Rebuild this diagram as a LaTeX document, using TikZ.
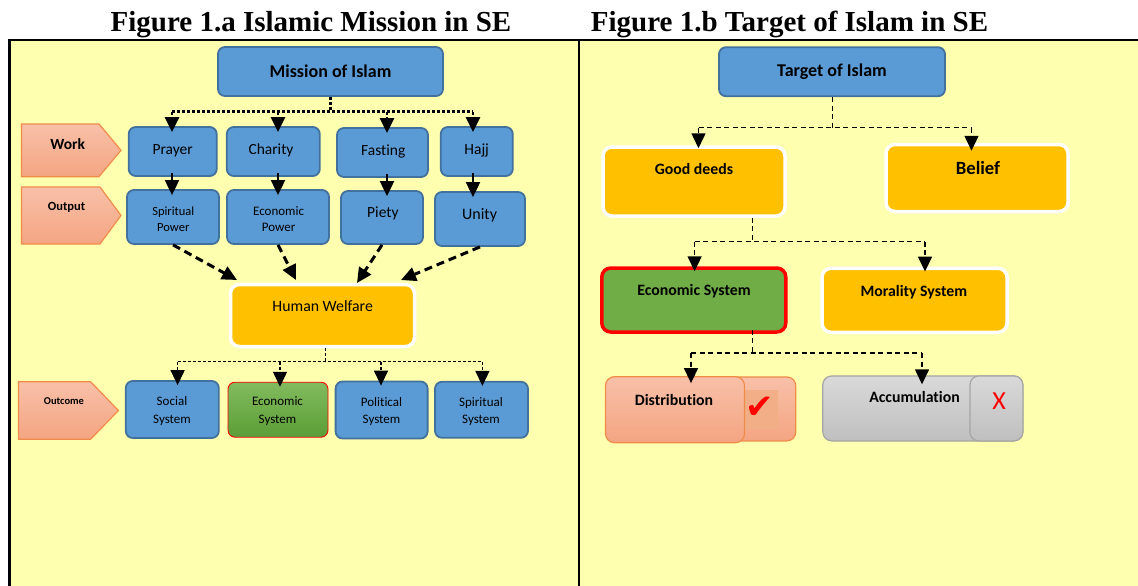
\documentclass[tikz,border=0pt]{standalone}
\usepackage{fontspec}
\setmainfont{Carlito}[Ligatures=NoCommon]
\newfontfamily\titlefont{Liberation Serif}
\newfontfamily\symfont{DejaVu Sans}
\usetikzlibrary{arrows.meta,calc}
\newcommand\fsz[2]{\fontsize{#1}{#2}\selectfont}
\definecolor{bg}{RGB}{255,255,176}
\definecolor{bfill}{RGB}{91,155,213}
\definecolor{bline}{RGB}{65,113,156}
\definecolor{yfill}{RGB}{255,192,0}
\definecolor{gfill}{RGB}{112,173,71}
\definecolor{gtop}{RGB}{130,187,94}
\definecolor{gbot}{RGB}{91,158,54}
\definecolor{stop}{RGB}{248,192,168}
\definecolor{sbot}{RGB}{244,165,130}
\definecolor{sline}{RGB}{240,140,74}
\definecolor{chk}{RGB}{242,174,134}
\definecolor{grtop}{RGB}{217,217,217}
\definecolor{grbot}{RGB}{191,191,191}
\definecolor{grline}{RGB}{165,165,165}
\tikzset{
  bluebox/.style={draw=bline, fill=bfill, line width=1.8pt, rounded corners=7pt, inner sep=0pt, align=center},
  yelbox/.style={draw=white, fill=yfill, line width=3.5pt, rounded corners=9pt, inner sep=0pt},
  salbox/.style={draw=sline, top color=stop, bottom color=sbot, line width=1.2pt, rounded corners=9pt, inner sep=0pt},
  graybox/.style={draw=grline, top color=grtop, bottom color=grbot, line width=1.2pt, rounded corners=9pt, inner sep=0pt},
  pent/.style={draw=sline, top color=stop, bottom color=sbot, line width=1.2pt},
  txt/.style={inner sep=0pt, text height=0.95em, text depth=0pt},
  two/.style={inner sep=0pt, align=center},
  arr/.style={-{Triangle[length=15pt,width=14pt]}},
  dotline/.style={line width=2.8pt, dash pattern=on 2.8pt off 2.2pt},
  smdash/.style={line width=1.4pt, dash pattern=on 3pt off 2pt},
  thkdash/.style={line width=3pt, dash pattern=on 8pt off 5pt},
  rdash/.style={line width=1.5pt, dash pattern=on 5pt off 3.5pt},
  solidarr/.style={line width=2pt},
}
\begin{document}
\begin{tikzpicture}[x=1pt,y=-1pt]
\useasboundingbox (0,0) rectangle (1138,586);
\fill[white] (0,0) rectangle (1138,586);
\fill[bg] (9,40) rectangle (1138,586);
\draw[line width=2pt] (8,40) -- (1138,40);
\draw[line width=3pt] (9,39) -- (9,586);
\draw[line width=2pt] (579,40) -- (579,586);

% titles
\node[anchor=base, font=\titlefont\bfseries\fsz{29}{32}] (t1) at (311,31.5) {Figure 1.a Islamic Mission in SE};
\node[anchor=base, font=\titlefont\bfseries\fsz{29}{32}] (t2) at (789.5,31.5) {Figure 1.b Target of Islam in SE};

% ---------- left panel ----------
\node[bluebox, minimum width=225pt, minimum height=49pt, font=\bfseries\fsz{18}{20}] (mission) at (330.5,71.5) {Mission of Islam};

\shade[pent] (21.5,124) -- (99,124) -- (121,150.3) -- (99,176.7) -- (21.5,176.7) -- cycle;
\node[txt, font=\bfseries\fsz{15.5}{17}] (worklbl) at (67.7,144.5) {Work};
\shade[pent] (21.5,187) -- (100,187) -- (121,215.5) -- (100,244) -- (21.5,244) -- cycle;
\node[txt, font=\bfseries\fsz{12.5}{14}] (outlbl) at (66.6,206) {Output};
\shade[pent] (18.5,381.7) -- (90.6,381.7) -- (118.4,410.5) -- (90.6,439.3) -- (18.5,439.3) -- cycle;
\node[txt, font=\bfseries\fsz{10.5}{12}] (outclbl) at (64,399.3) {Outcome};

\node[bluebox, minimum width=88pt, minimum height=49pt] (prayer) at (172.7,151.5) {};
\node[txt, font=\fsz{15.5}{17}] (prayert) at (172.7,149.5) {Prayer};
\node[bluebox, minimum width=93pt, minimum height=49pt] (charity) at (273.3,151.5) {};
\node[txt, font=\fsz{15.5}{17}] (charityt) at (271,149.5) {Charity};
\node[bluebox, minimum width=91pt, minimum height=49pt] (fasting) at (382.5,152.5) {};
\node[txt, font=\fsz{15.5}{17}] (fastingt) at (383.3,150.7) {Fasting};
\node[bluebox, minimum width=72pt, minimum height=49pt] (hajj) at (476.8,151.5) {};
\node[txt, font=\fsz{15.5}{17}] (hajjt) at (476.7,149.5) {Hajj};

\node[bluebox, minimum width=92pt, minimum height=54pt] (sp) at (173,217) {};
\node[two, font=\fsz{12.5}{16.3}] (spt) at (173.3,219) {Spiritual\\Power};
\node[bluebox, minimum width=102pt, minimum height=54pt] (ep) at (278,217) {};
\node[two, font=\fsz{13}{16.5}] (ept) at (278.6,219) {Economic\\Power};
\node[bluebox, minimum width=82pt, minimum height=53pt] (piety) at (382,217.5) {};
\node[txt, font=\fsz{15.5}{17}] (pietyt) at (382.9,212.7) {Piety};
\node[bluebox, minimum width=90pt, minimum height=54pt] (unity) at (480,219) {};
\node[txt, font=\fsz{16}{18}] (unityt) at (479.6,215) {Unity};

\node[yelbox, minimum width=184pt, minimum height=62pt] (hw) at (322.5,315.5) {};
\node[txt, font=\fsz{15.8}{18}] (hwt) at (322.7,306.7) {Human Welfare};

\node[bluebox, minimum width=93pt, minimum height=57pt] (social) at (172.3,409.5) {};
\node[two, font=\fsz{13}{17.3}] (socialt) at (172,411) {Social\\System};
\node[draw=red, top color=gtop, bottom color=gbot, line width=0.9pt, rounded corners=7pt, inner sep=0pt, minimum width=100pt, minimum height=55pt] (econ1) at (278,409.7) {};
\node[two, font=\fsz{13}{18}] (econ1t) at (277.5,411.5) {Economic\\System};
\node[bluebox, minimum width=92pt, minimum height=57pt] (political) at (381.6,410) {};
\node[two, font=\fsz{13}{17}] (politicalt) at (381.5,412) {Political\\System};
\node[bluebox, minimum width=93pt, minimum height=56pt] (spsys) at (481.5,409.8) {};
\node[two, font=\fsz{13}{17}] (spsyst) at (481,412) {Spiritual\\System};

% connectors left
\coordinate (mb) at (330.4,111.7);
\coordinate (mb1) at (172,111.7);
\coordinate (mb2) at (278,111.7);
\coordinate (mb3) at (387,111.7);
\coordinate (mb4) at (473,111.7);
\draw[dotline] (mission.south -| mb) -- (mb);
\draw[dotline] (mb1) -- (mb4);
\draw[dotline, arr, shorten >=-6pt] (mb1) -- (mb1 |- prayer.north);
\draw[dotline, arr, shorten >=-6pt] (mb2) -- (mb2 |- charity.north);
\draw[dotline, arr, shorten >=-6pt] (mb3) -- (mb3 |- fasting.north);
\draw[dotline, arr, shorten >=-6pt] (mb4) -- (mb4 |- hajj.north);

\draw[solidarr, arr, shorten >=-6pt] ($(prayer.south -| mb1)+(0,-4)$) -- (mb1 |- sp.north);
\draw[solidarr, arr, shorten >=-6pt] ($(charity.south -| mb2)+(0,-4)$) -- (mb2 |- ep.north);
\draw[solidarr, arr, shorten >=-6pt] ($(fasting.south -| mb3)+(0,-4)$) -- (mb3 |- piety.north);
\draw[solidarr, arr, shorten >=-6pt] ($(hajj.south -| mb4)+(0,-4)$) -- (mb4 |- unity.north);

\coordinate (hw1) at (237,280);
\coordinate (hw2) at (296,280);
\coordinate (hw3) at (357,283);
\coordinate (hw4) at (401,280);
\draw[thkdash, arr] (sp.south) -- (hw1);
\draw[thkdash, arr] (ep.south) -- (hw2);
\draw[thkdash, arr] (piety.south) -- (hw3);
\draw[thkdash, arr] (unity.south) -- (hw4);

\coordinate (hb) at (325.6,361.7);
\coordinate (hb1) at (177.6,361.7);
\coordinate (hb2) at (280,361.7);
\coordinate (hb3) at (381,361.7);
\coordinate (hb4) at (482.4,361.7);
\draw[smdash] (hw.south -| hb) -- (hb);
\draw[smdash] (hb1) -- (hb4);
\draw[smdash, arr, shorten >=-5pt] (hb1) -- (hb1 |- social.north);
\draw[smdash, arr, shorten >=-5pt] (hb2) -- (hb2 |- econ1.north);
\draw[smdash, arr, shorten >=-5pt] (hb3) -- (hb3 |- political.north);
\draw[smdash, arr, shorten >=-5pt] (hb4) -- (hb4 |- spsys.north);

% ---------- right panel ----------
\node[bluebox, minimum width=226pt, minimum height=49pt, font=\bfseries\fsz{18}{20}] (target) at (832,71.7) {Target of Islam};
\node[yelbox, minimum width=182pt, minimum height=69pt] (gd) at (694,181.5) {};
\node[txt, font=\bfseries\fsz{15.8}{18}] (gdt) at (694,170) {Good deeds};
\node[yelbox, minimum width=182pt, minimum height=67pt] (belief) at (977,178) {};
\node[txt, font=\bfseries\fsz{18.7}{20}] (belieft) at (978,170) {Belief};
\node[draw=red, fill=gfill, line width=3.5pt, rounded corners=9pt, inner sep=0pt, minimum width=184pt, minimum height=64pt] (es) at (693.8,300) {};
\node[txt, font=\bfseries\fsz{15.8}{18}] (est) at (694,291) {Economic System};
\node[yelbox, minimum width=185pt, minimum height=64pt] (ms) at (914.5,300.3) {};
\node[txt, font=\bfseries\fsz{15.8}{18}] (mst) at (913.8,292) {Morality System};

\node[salbox, minimum width=190pt, minimum height=64pt] (distB) at (700.8,408.9) {};
\node[fill=chk, inner sep=0pt, minimum width=33pt, minimum height=39pt] (chksq) at (761,409.5) {};
\node[text=red, font=\symfont\fsz{34}{36}, inner sep=0pt] (chkmark) at (760,408) {✔};
\node[salbox, minimum width=139pt, minimum height=66pt] (distF) at (675,409.7) {};
\node[txt, font=\bfseries\fsz{15.8}{18}] (distt) at (674,400.7) {Distribution};

\node[graybox, minimum width=200pt, minimum height=65pt] (accB) at (922.8,408.4) {};
\node[graybox, minimum width=53pt, minimum height=65pt] (accF) at (996.4,408.4) {};
\node[txt, font=\bfseries\fsz{15.8}{18}] (acct) at (914.5,397.7) {Accumulation};
\node[txt, text=red, font=\fsz{26}{28}, text height=0.64em] (xmark) at (999,406.7) {X};

% connectors right
\coordinate (tb) at (832.7,127.7);
\coordinate (tb1) at (698.5,127.7);
\coordinate (tb2) at (971.5,127.7);
\draw[rdash] (target.south -| tb) -- (tb);
\draw[rdash] (tb1) -- (tb2);
\draw[rdash, arr, shorten >=-3pt] (tb1) -- (tb1 |- gd.north);
\draw[rdash, arr, shorten >=-8pt] (tb2) -- (tb2 |- belief.north);

\coordinate (gb) at (752.6,241.7);
\coordinate (gb1) at (694.6,241.7);
\coordinate (gb2) at (925,241.7);
\draw[rdash] (gd.south -| gb) -- (gb);
\draw[rdash] (gb1) -- (gb2);
\draw[rdash, arr, shorten >=-5pt] (gb1) -- (gb1 |- es.north);
\draw[rdash, arr, shorten >=-5pt] (gb2) -- (gb2 |- ms.north);

\coordinate (eb) at (752.6,353);
\coordinate (eb1) at (691,353);
\coordinate (eb2) at (922,353);
\draw[rdash] ($(es.south -| eb)+(0,-4)$) -- (eb);
\draw[rdash] (eb1) -- (eb2);
\draw[rdash, arr, shorten >=-7pt] (eb1) -- (eb1 |- distF.north);
\draw[rdash, arr, shorten >=-9pt] (eb2) -- (eb2 |- accB.north);
\end{tikzpicture}
\end{document}
